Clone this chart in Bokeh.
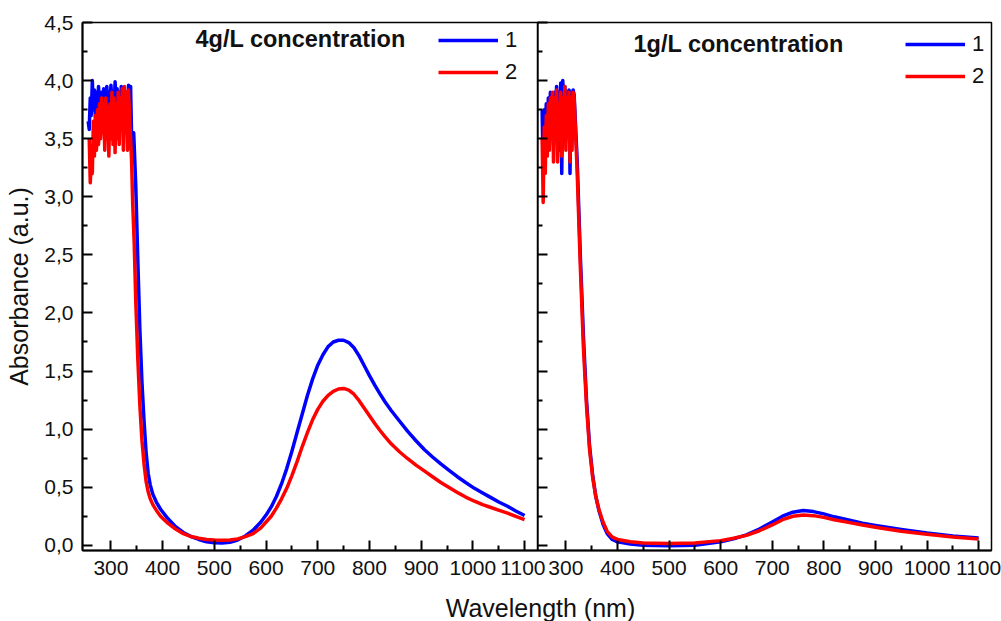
import numpy as np
from bokeh.plotting import figure
from bokeh.models import FixedTicker, CustomJSTickFormatter, Label, Range1d
from bokeh.layouts import row, column
from bokeh.embed import file_html
from bokeh.resources import INLINE

# ---------------- data ----------------
x_ticks = [300, 400, 500, 600, 700, 800, 900, 1000, 1100]
x_minor = [350, 450, 550, 650, 750, 850, 950, 1050]
y_ticks = [0.0, 0.5, 1.0, 1.5, 2.0, 2.5, 3.0, 3.5, 4.0, 4.5]
y_minor = [0.25, 0.75, 1.25, 1.75, 2.25, 2.75, 3.25, 3.75, 4.25]

# 4 g/L, sample 1 (blue)
wl_4_s1 = [256, 258, 260, 262, 264, 266, 268, 270, 272, 274, 276, 278, 280, 282, 284,
           286, 288, 290, 292, 294, 296, 298, 300, 302, 304, 306, 308, 310, 312, 314,
           316, 318, 320, 322, 324, 326, 328, 330, 332, 334, 336, 338, 340, 342, 344,
           348, 352, 356, 360, 364, 368, 372, 376, 381, 388, 396, 410, 425, 440, 455,
           470, 485, 500, 515, 530, 545, 560, 575,
           590, 600, 610, 620, 630, 640, 650, 660, 670, 680, 690, 700, 710, 720, 730,
           740, 750, 760, 770, 780, 790, 800, 810, 820, 830, 842, 858, 874, 890, 906,
           922, 938, 954, 970, 986, 1003, 1019, 1035, 1051, 1067, 1083, 1100]
abs_4_s1 = [3.65, 3.58, 3.85, 3.70, 4.00, 3.75, 3.92, 3.68, 3.90, 3.72, 3.95, 3.80, 3.70, 3.90, 3.76,
            3.93, 3.85, 3.72, 3.95, 3.80, 3.90, 3.78, 3.96, 3.82, 3.90, 3.70, 3.99, 3.80, 3.93, 3.75,
            3.90, 3.65, 3.95, 3.80, 3.92, 3.60, 3.85, 3.90, 3.70, 3.96, 3.85, 3.95, 3.50, 3.30, 3.55,
            3.10, 2.45, 1.85, 1.40, 1.07, 0.80, 0.62, 0.52, 0.44, 0.37, 0.31, 0.23, 0.16, 0.11, 0.075,
            0.05, 0.03, 0.022, 0.02, 0.025, 0.045, 0.08, 0.13,
            0.20, 0.26, 0.33, 0.42, 0.53, 0.66, 0.81, 0.97, 1.13, 1.29, 1.43, 1.55, 1.64, 1.71, 1.75,
            1.765, 1.765, 1.745, 1.70, 1.63, 1.545, 1.46, 1.38, 1.305, 1.235, 1.16, 1.07, 0.98, 0.90, 0.825,
            0.76, 0.70, 0.645, 0.59, 0.54, 0.49, 0.45, 0.41, 0.37, 0.336, 0.295, 0.256]

# 4 g/L, sample 2 (red)
wl_4_s2 = [258, 260, 262, 264, 266, 268, 270, 272, 274, 276, 278, 280, 282, 284, 286,
           288, 290, 292, 294, 296, 298, 300, 302, 304, 306, 308, 310, 312, 314, 316,
           318, 320, 322, 324, 326, 328, 330, 332, 334, 336, 338, 340, 342, 345, 348,
           352, 356, 360, 364, 368, 372, 376, 381, 388, 396, 410, 425, 440, 455, 470,
           485, 500, 515, 530, 545, 560, 575,
           590, 600, 610, 620, 630, 640, 650, 660, 670, 680, 690, 700, 710, 720, 730,
           740, 750, 760, 770, 780, 790, 800, 810, 820, 830, 842, 858, 874, 890, 906,
           922, 938, 954, 970, 986, 1003, 1019, 1035, 1051, 1067, 1083, 1100]
abs_4_s2 = [3.50, 3.12, 3.30, 3.20, 3.65, 3.35, 3.70, 3.40, 3.75, 3.45, 3.80, 3.50, 3.85, 3.55, 3.80,
            3.40, 3.85, 3.50, 3.75, 3.35, 3.80, 3.50, 3.90, 3.45, 3.85, 3.38, 3.80, 3.50, 3.90, 3.45,
            3.85, 3.60, 3.93, 3.40, 3.95, 3.55, 3.90, 3.40, 3.92, 3.70, 3.50, 3.30, 2.95, 2.60, 2.10,
            1.60, 1.20, 0.90, 0.70, 0.55, 0.46, 0.40, 0.35, 0.30, 0.25, 0.19, 0.14, 0.10, 0.075, 0.06,
            0.05, 0.045, 0.043, 0.045, 0.055, 0.075, 0.10,
            0.15, 0.20, 0.25, 0.32, 0.40, 0.49, 0.60, 0.72, 0.85, 0.97, 1.08, 1.17, 1.24, 1.29, 1.325,
            1.345, 1.35, 1.335, 1.30, 1.245, 1.18, 1.115, 1.05, 0.99, 0.935, 0.873, 0.805, 0.745, 0.69, 0.64,
            0.59, 0.54, 0.497, 0.455, 0.415, 0.379, 0.35, 0.325, 0.30, 0.276, 0.248, 0.22]

# 1 g/L, sample 1 (blue)
wl_1_s1 = [254, 256, 258, 260, 262, 264, 266, 268, 270, 272, 274, 276, 278, 280, 282,
           284, 286, 288, 290, 292, 294, 296, 298, 300, 302, 304, 306, 308, 310, 312,
           314, 316, 322, 328, 334, 340, 346, 352, 358, 364, 372, 380, 390, 400, 425,
           450, 500, 550, 600, 625, 650, 675, 700, 720, 740, 760, 780, 800, 820, 850,
           875, 900, 950, 1000, 1050, 1100]
abs_1_s1 = [3.75, 3.20, 3.75, 3.60, 3.80, 3.50, 3.85, 3.60, 3.90, 3.55, 3.80, 3.45, 3.90, 3.70, 3.95,
            3.60, 3.90, 3.40, 3.98, 3.20, 4.00, 3.70, 3.95, 3.50, 3.90, 3.60, 3.92, 3.20, 3.90, 3.50,
            3.92, 3.88, 3.30, 2.50, 1.80, 1.25, 0.85, 0.60, 0.42, 0.30, 0.18, 0.10, 0.05, 0.03, 0.01,
            0.0, -0.005, 0.0, 0.03, 0.055, 0.09, 0.14, 0.20, 0.25, 0.285, 0.30, 0.29, 0.27, 0.245, 0.215,
            0.19, 0.17, 0.135, 0.105, 0.08, 0.062]

# 1 g/L, sample 2 (red)
wl_1_s2 = [254, 256, 258, 260, 262, 264, 266, 268, 270, 272, 274, 276, 278, 280, 282,
           284, 286, 288, 290, 292, 294, 296, 298, 300, 302, 304, 306, 308, 310, 312,
           314, 316, 322, 328, 334, 340, 346, 352, 358, 364, 372, 380, 390, 400, 425,
           450, 500, 550, 600, 625, 650, 675, 700, 720, 740, 760, 780, 800, 820, 850,
           875, 900, 950, 1000, 1050, 1100]
abs_1_s2 = [3.50, 2.95, 3.60, 3.20, 3.70, 3.35, 3.80, 3.40, 3.85, 3.50, 3.90, 3.30, 3.85, 3.50, 3.92,
            3.30, 3.80, 3.55, 3.90, 3.35, 3.85, 3.60, 3.95, 3.40, 3.85, 3.55, 3.90, 3.30, 3.85, 3.40,
            3.90, 3.85, 3.20, 2.40, 1.70, 1.20, 0.82, 0.58, 0.42, 0.31, 0.20, 0.12, 0.07, 0.05, 0.03,
            0.02, 0.015, 0.02, 0.04, 0.06, 0.085, 0.125, 0.175, 0.22, 0.25, 0.26, 0.255, 0.24, 0.22, 0.195,
            0.175, 0.155, 0.12, 0.095, 0.072, 0.055]

titles = ["4g/L concentration", "1g/L concentration"]
series_labels = ["1", "2"]
colors = ["#0000ff", "#ff0000"]

# ---------------- styling ----------------
FONT = "Liberation Sans"
yfmt = CustomJSTickFormatter(code="return tick.toFixed(1).replace('.', ',');")
xfmt = CustomJSTickFormatter(code="return tick.toFixed(0);")
nofmt = CustomJSTickFormatter(code="return '';")


def make_panel(width, mb_left, mb_right, show_y_labels):
    p = figure(width=width, height=590, output_backend="svg", toolbar_location=None,
               x_range=Range1d(245, 1125), y_range=Range1d(-0.045, 4.5),
               min_border_left=mb_left, min_border_right=mb_right,
               min_border_top=22, min_border_bottom=40)
    p.grid.visible = False
    p.outline_line_color = "black"
    p.outline_line_width = 1.5
    for ax in (p.xaxis[0], p.yaxis[0]):
        ax.axis_line_width = 2
        ax.major_tick_line_width = 2
        ax.minor_tick_line_width = 2
        ax.major_tick_in = 10
        ax.major_tick_out = 0
        ax.minor_tick_in = 5
        ax.minor_tick_out = 0
        ax.major_label_text_font = FONT
        ax.major_label_text_font_size = "21px"
        ax.major_label_text_color = "#111111"
    p.xaxis.ticker = FixedTicker(ticks=x_ticks, minor_ticks=x_minor)
    p.xaxis.formatter = xfmt
    p.xaxis.major_label_standoff = 10
    p.yaxis.ticker = FixedTicker(ticks=y_ticks, minor_ticks=y_minor)
    if show_y_labels:
        p.yaxis.formatter = yfmt
        p.yaxis.major_label_standoff = 9
        p.yaxis.axis_label = "Absorbance (a.u.)"
        p.yaxis.axis_label_text_font = FONT
        p.yaxis.axis_label_text_font_style = "normal"
        p.yaxis.axis_label_text_font_size = "25px"
        p.yaxis.axis_label_text_color = "#111111"
        p.yaxis.axis_label_standoff = 8
    else:
        p.yaxis.formatter = nofmt
        p.yaxis.major_label_standoff = 0
    return p


p1 = make_panel(545, 82, 8, True)
p2 = make_panel(464, 0, 10, False)
p2.margin = (0, 0, 0, -8)
p2.border_fill_alpha = 0
p2.background_fill_alpha = 0

data = [
    (p1, [(wl_4_s1, abs_4_s1), (wl_4_s2, abs_4_s2)]),
    (p2, [(wl_1_s1, abs_1_s1), (wl_1_s2, abs_1_s2)]),
]
for p, series in data:
    for (wl, ab), c, lab in zip(series, colors, series_labels):
        p.line(wl, ab, line_color=c, line_width=3.5, line_join="round", legend_label=lab)

legend_locs = [(346, 455), (358, 451)]
title_pos = [(113, 499), (96, 494)]
for p, title, loc, tp in zip([p1, p2], titles, legend_locs, title_pos):
    lg = p.legend[0]
    lg.location = loc
    lg.border_line_alpha = 0
    lg.background_fill_alpha = 0
    lg.glyph_width = 60
    lg.glyph_height = 20
    lg.label_height = 20
    lg.label_width = 20
    lg.label_standoff = 7
    lg.spacing = 6
    lg.padding = 10
    lg.margin = 0
    lg.label_text_font = FONT
    lg.label_text_font_size = "22px"
    lg.label_text_color = "#111111"
    p.add_layout(Label(x=tp[0], y=tp[1], x_units="screen", y_units="screen", text=title,
                       text_font=FONT, text_font_style="bold", text_font_size="23.5px",
                       text_color="#111111"))

p3 = figure(width=1001, height=31, output_backend="svg", toolbar_location=None,
            x_axis_type=None, y_axis_type=None, min_border=0,
            x_range=Range1d(0, 1), y_range=Range1d(0, 1))
p3.outline_line_color = None
p3.grid.visible = False
p3.add_layout(Label(x=540, y=14, x_units="screen", y_units="screen", text="Wavelength (nm)",
                    text_align="center", text_baseline="middle", text_font=FONT,
                    text_font_size="25px", text_color="#111111"))

layout = column(row(p1, p2), p3)
open("out.html", "w").write(file_html(layout, INLINE))
